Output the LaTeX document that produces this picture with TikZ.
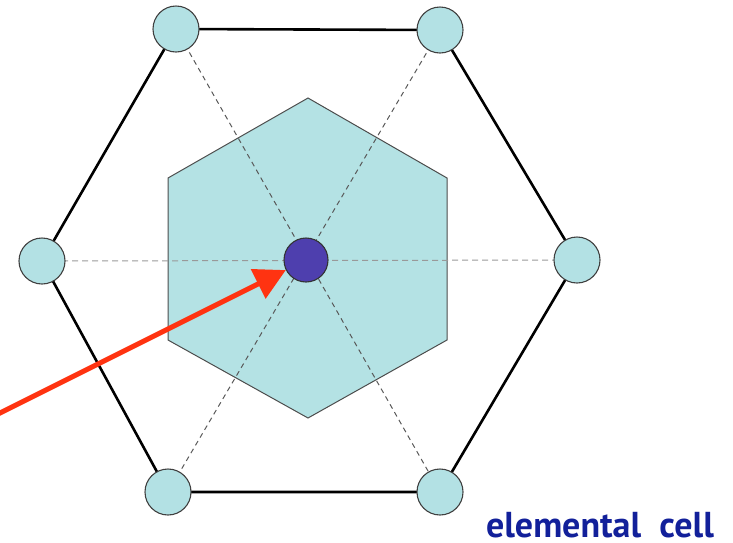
\documentclass[tikz,border=0pt]{standalone}
\usepackage{fontspec}
\newfontfamily\labelfont{PT Sans}
\usetikzlibrary{arrows.meta}
\definecolor{cellfill}{HTML}{B4E2E4}
\definecolor{sitefill}{HTML}{B3E1E4}
\definecolor{centerfill}{HTML}{4E3FAE}
\definecolor{arrowred}{HTML}{FF3311}
\definecolor{textblue}{HTML}{12209A}
\tikzset{
  site/.style={circle, draw=black!75, line width=1.1pt, fill=sitefill, minimum size=46pt, inner sep=0pt},
  centersite/.style={circle, draw=black!80, line width=1.1pt, fill=centerfill, minimum size=44pt, inner sep=0pt},
  outeredge/.style={line width=2.6pt, black},
  diagdash/.style={dashed, line width=1pt, black!65, dash pattern=on 5pt off 4pt},
  horizdash/.style={dashed, line width=1pt, black!40, dash pattern=on 6pt off 4pt},
  cellhex/.style={fill=cellfill, draw=black!70, line width=1pt},
  pointer/.style={line width=5pt, arrowred, -{Triangle[length=31pt,width=32pt]}},
  caption/.style={font=\labelfont\bfseries\fontsize{36}{40}\selectfont, text=textblue, inner sep=0pt, anchor=base east}
}
\begin{document}
\begin{tikzpicture}[x=1pt,y=-1pt]
\useasboundingbox (0,0) rectangle (733,542);
% site coordinates
\coordinate (ptl) at (176,29);
\coordinate (ptr) at (440,30);
\coordinate (pl) at (42,261);
\coordinate (pr) at (577,260);
\coordinate (pbl) at (168,492);
\coordinate (pbr) at (440,492);
\coordinate (pc) at (306,260);
% elemental cell
\path[cellhex] (308,98) coordinate (h1) -- (447,178) coordinate (h2) -- (447,340) coordinate (h3)
  -- (308,418) coordinate (h4) -- (168,340) coordinate (h5) -- (168,178) coordinate (h6) -- cycle;
% dashed diagonals
\draw[horizdash] (pl) -- (pr);
\draw[diagdash] (ptl) -- (pbr);
\draw[diagdash] (ptr) -- (pbl);
% outer hexagon
\draw[outeredge] (ptl) -- (ptr) -- (pr) -- (pbr) -- (pbl) -- (pl) -- cycle;
% sites
\node[site] (tl) at (ptl) {};
\node[site] (tr) at (ptr) {};
\node[site] (l) at (pl) {};
\node[site] (r) at (pr) {};
\node[site] (bl) at (pbl) {};
\node[site] (br) at (pbr) {};
\node[centersite] (c) at (pc) {};
% pointer
\coordinate (as) at (-6,416);
\draw[pointer] (as) -- (c);
% caption
\node[caption] (cap) at (714,537) {elemental\ \ cell};
\end{tikzpicture}
\end{document}
